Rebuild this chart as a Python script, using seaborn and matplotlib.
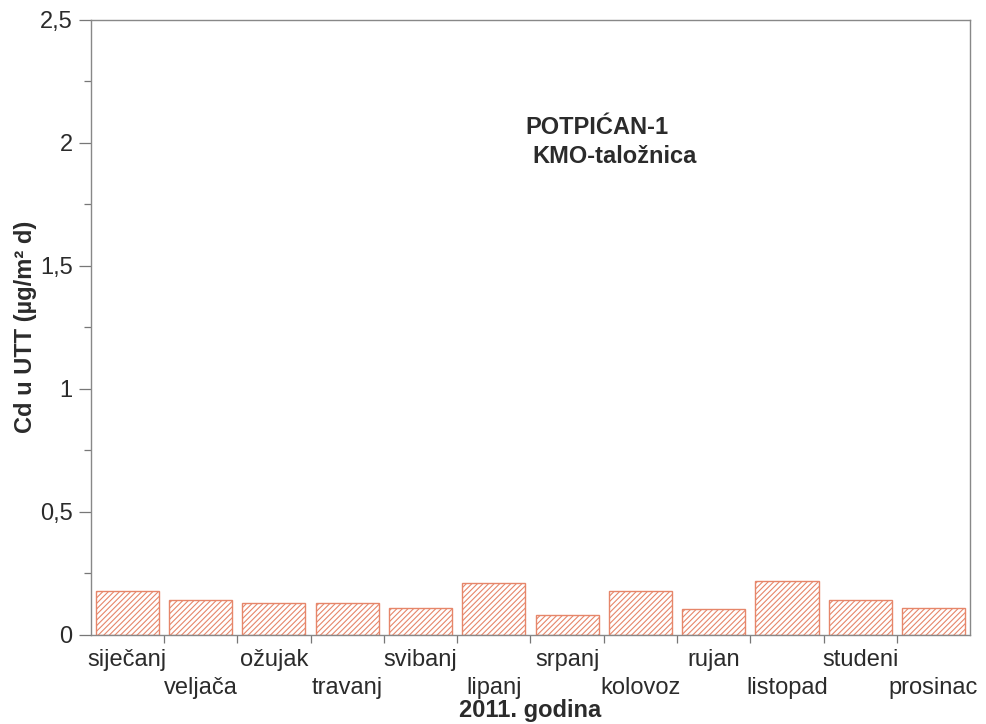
import numpy as np
import pandas as pd
import matplotlib
matplotlib.use("Agg")
import matplotlib.pyplot as plt
import matplotlib.transforms as mtransforms
import seaborn as sns

# monthly Cd deposition, 2011
months = ["siječanj", "veljača", "ožujak", "travanj", "svibanj", "lipanj",
          "srpanj", "kolovoz", "rujan", "listopad", "studeni", "prosinac"]
cd_values = [0.18, 0.14, 0.13, 0.13, 0.11, 0.21, 0.08, 0.18, 0.105, 0.22, 0.14, 0.11]
y_ticks = [0, 0.5, 1, 1.5, 2, 2.5]
y_tick_labels = ["0", "0,5", "1", "1,5", "2", "2,5"]

sns.set_style("white")
plt.rcParams['font.family'] = ['Liberation Sans', 'DejaVu Sans']
plt.rcParams['hatch.color'] = '#e6866a'
plt.rcParams['hatch.linewidth'] = 0.8

df = pd.DataFrame({"mjesec": months, "Cd": cd_values})

fig = plt.figure(figsize=(9.86, 7.24), dpi=100)
ax = fig.add_axes([0.092, 0.123, 0.892, 0.850])

sns.barplot(data=df, x="mjesec", y="Cd", color="white", width=0.86,
            edgecolor="#e6866a", linewidth=1.0, ax=ax)
for p in ax.patches:
    p.set_hatch("//////")

ax.set_xlim(-0.5, len(months) - 0.5)
ax.set_ylim(0, 2.5)

ax.set_yticks(y_ticks)
ax.set_yticklabels(y_tick_labels)
ax.set_yticks(np.arange(0.25, 2.5, 0.5), minor=True)

ax.set_xticks(range(len(months)))
ax.set_xticklabels(months)
ax.set_xticks(np.arange(0.5, len(months) - 1, 1), minor=True)

txt_col = "#2b2b2b"
fs = 17
ax.tick_params(axis="y", which="major", length=9, width=0.9, color="#777777",
               labelsize=fs, labelcolor=txt_col, pad=4, left=True)
ax.tick_params(axis="y", which="minor", length=5, width=0.9, color="#777777", left=True)
ax.tick_params(axis="x", which="major", length=0, labelsize=fs,
               labelcolor=txt_col, pad=10)
ax.tick_params(axis="x", which="minor", length=6, width=0.9, color="#777777", bottom=True)

# stagger month labels in two rows
shift = mtransforms.ScaledTranslation(0, -0.28, fig.dpi_scale_trans)
for i, lab in enumerate(ax.get_xticklabels()):
    if i % 2:
        lab.set_transform(lab.get_transform() + shift)

for s in ax.spines.values():
    s.set_color("#888888")
    s.set_linewidth(1.0)

ax.set_xlabel("2011. godina", fontsize=fs, fontweight="bold", color=txt_col, labelpad=0)
ax.set_ylabel("Cd u UTT (µg/m² d)", fontsize=fs, fontweight="bold", color=txt_col, labelpad=2)

ax.text(0.494, 0.824, "POTPIĆAN-1", transform=ax.transAxes, fontsize=fs,
        fontweight="bold", color=txt_col, va="center", ha="left")
ax.text(0.502, 0.777, "KMO-taložnica", transform=ax.transAxes, fontsize=fs,
        fontweight="bold", color=txt_col, va="center", ha="left")

fig.savefig("out.png", dpi=100)
